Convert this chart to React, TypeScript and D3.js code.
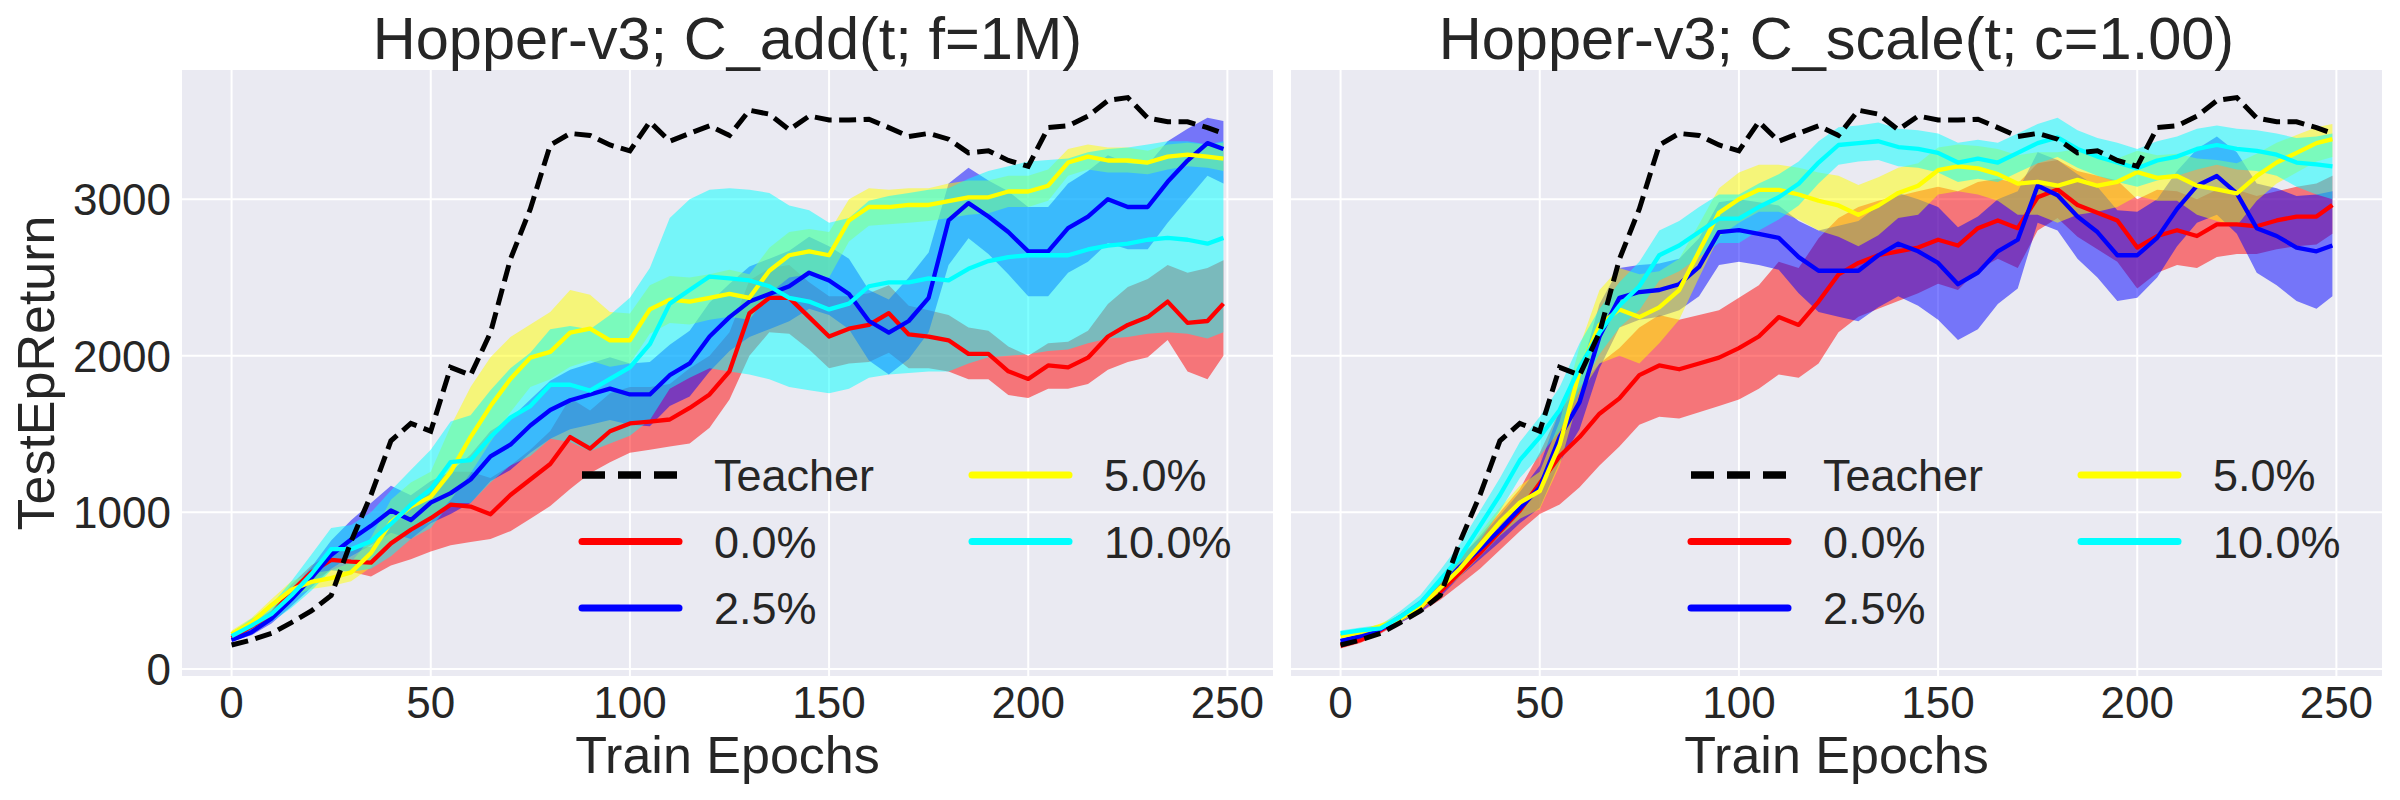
import * as d3 from 'd3';

// epochs sampled from the curves
const epochs = [0, 5, 10, 15, 20, 25, 30, 35, 40, 45, 50, 55, 60, 65, 70, 75, 80, 85, 90, 95, 100, 105, 110, 115, 120, 125, 130, 135, 140, 145, 150, 155, 160, 165, 170, 175, 180, 185, 190, 195, 200, 205, 210, 215, 220, 225, 230, 235, 240, 245, 249];

const xTicks = [0, 50, 100, 150, 200, 250];
const yTicks = [0, 1000, 2000, 3000];

const teacher = [153, 185, 227, 296, 370, 469, 815, 1111, 1457, 1568, 1518, 1926, 1876, 2148, 2617, 2938, 3346, 3420, 3407, 3346, 3309, 3494, 3370, 3420, 3469, 3407, 3568, 3543, 3444, 3531, 3506, 3506, 3511, 3457, 3400, 3420, 3383, 3296, 3309, 3247, 3210, 3457, 3469, 3531, 3630, 3649, 3518, 3494, 3494, 3457, 3420];

// left panel: C_add
const addRed = [198, 272, 346, 494, 617, 696, 686, 679, 802, 889, 963, 1049, 1037, 988, 1111, 1210, 1309, 1481, 1407, 1518, 1568, 1580, 1593, 1667, 1753, 1901, 2272, 2370, 2370, 2247, 2123, 2173, 2197, 2272, 2136, 2123, 2099, 2012, 2012, 1901, 1852, 1938, 1926, 1988, 2123, 2197, 2247, 2346, 2210, 2222, 2333];
const addRedLo = [180, 250, 320, 440, 560, 630, 620, 590, 660, 700, 750, 790, 810, 830, 880, 960, 1040, 1150, 1250, 1320, 1380, 1400, 1420, 1440, 1540, 1720, 2000, 2150, 2140, 2040, 1920, 1950, 1960, 2020, 1920, 1920, 1900, 1850, 1850, 1750, 1730, 1790, 1790, 1820, 1910, 1960, 1990, 2100, 1900, 1850, 2000];
const addRedHi = [215, 295, 375, 540, 660, 740, 770, 780, 930, 1060, 1150, 1260, 1260, 1220, 1300, 1400, 1520, 1730, 1650, 1760, 1800, 1800, 1820, 1920, 2000, 2150, 2480, 2560, 2580, 2470, 2380, 2380, 2400, 2450, 2320, 2290, 2260, 2180, 2160, 2060, 2000, 2080, 2090, 2160, 2330, 2440, 2490, 2580, 2530, 2560, 2610];

const addBlue = [185, 235, 321, 444, 580, 728, 827, 914, 1012, 951, 1062, 1123, 1210, 1358, 1432, 1555, 1654, 1716, 1753, 1790, 1753, 1753, 1876, 1951, 2123, 2247, 2346, 2395, 2444, 2531, 2481, 2395, 2222, 2148, 2222, 2370, 2864, 2975, 2889, 2790, 2667, 2667, 2815, 2889, 3000, 2950, 2950, 3111, 3247, 3358, 3321];
const addBlueLo = [175, 215, 290, 400, 520, 640, 720, 790, 870, 830, 930, 990, 1060, 1200, 1270, 1380, 1470, 1530, 1560, 1590, 1560, 1550, 1680, 1740, 1900, 2030, 2120, 2170, 2220, 2300, 2260, 2170, 1970, 1880, 1980, 2150, 2580, 2750, 2650, 2520, 2380, 2380, 2530, 2600, 2720, 2680, 2680, 2850, 3000, 3150, 3100];
const addBlueHi = [200, 260, 360, 500, 650, 820, 950, 1060, 1170, 1110, 1200, 1260, 1370, 1520, 1600, 1720, 1840, 1910, 1950, 1990, 1950, 1960, 2070, 2160, 2340, 2460, 2570, 2620, 2670, 2760, 2700, 2620, 2420, 2360, 2500, 2660, 3100, 3200, 3120, 3050, 2950, 2950, 3100, 3180, 3280, 3230, 3220, 3370, 3450, 3520, 3500];

const addYellow = [222, 296, 407, 506, 556, 580, 617, 741, 938, 1037, 1099, 1259, 1481, 1679, 1852, 1988, 2025, 2148, 2173, 2099, 2099, 2296, 2358, 2346, 2370, 2395, 2370, 2543, 2642, 2667, 2642, 2864, 2950, 2950, 2963, 2963, 2988, 3012, 3012, 3049, 3049, 3086, 3234, 3272, 3247, 3247, 3234, 3272, 3284, 3272, 3259];
const addYellowLo = [200, 270, 370, 460, 510, 530, 560, 650, 800, 890, 940, 1080, 1250, 1450, 1640, 1800, 1850, 1930, 1970, 1930, 1950, 2140, 2210, 2200, 2230, 2250, 2230, 2400, 2500, 2520, 2500, 2730, 2830, 2840, 2850, 2860, 2880, 2900, 2910, 2950, 2950, 2990, 3150, 3190, 3170, 3170, 3160, 3190, 3210, 3200, 3180];
const addYellowHi = [245, 325, 445, 560, 610, 630, 680, 840, 1080, 1190, 1260, 1550, 1800, 1990, 2120, 2200, 2280, 2420, 2390, 2280, 2270, 2450, 2510, 2500, 2520, 2550, 2520, 2690, 2790, 2810, 2790, 3000, 3070, 3060, 3070, 3070, 3100, 3120, 3120, 3150, 3150, 3190, 3320, 3350, 3330, 3330, 3310, 3350, 3360, 3350, 3360];

const addCyan = [210, 277, 351, 469, 605, 765, 765, 815, 926, 1049, 1148, 1321, 1333, 1481, 1605, 1679, 1815, 1815, 1778, 1852, 1926, 2074, 2333, 2420, 2506, 2494, 2481, 2444, 2370, 2346, 2296, 2333, 2444, 2469, 2469, 2494, 2481, 2555, 2605, 2630, 2642, 2642, 2642, 2679, 2704, 2716, 2741, 2753, 2741, 2716, 2753];
const addCyanLo = [190, 240, 300, 390, 500, 630, 620, 640, 720, 830, 900, 1060, 1060, 1190, 1300, 1360, 1470, 1450, 1390, 1440, 1490, 1590, 1790, 1860, 1920, 1900, 1880, 1850, 1800, 1780, 1760, 1790, 1860, 1880, 1890, 1900, 1900, 1950, 1990, 2000, 2010, 2030, 2040, 2080, 2110, 2120, 2140, 2150, 2140, 2110, 2150];
const addCyanHi = [235, 320, 410, 560, 730, 900, 920, 1000, 1140, 1270, 1400, 1580, 1620, 1780, 1920, 2020, 2170, 2190, 2170, 2260, 2370, 2560, 2880, 3000, 3060, 3070, 3060, 3040, 2960, 2930, 2850, 2880, 2990, 3020, 3040, 3060, 3070, 3130, 3180, 3210, 3240, 3250, 3260, 3300, 3320, 3330, 3350, 3370, 3370, 3350, 3370];

// right panel: C_scale
const scaleRed = [148, 185, 247, 321, 395, 494, 617, 741, 877, 1012, 1185, 1358, 1481, 1630, 1728, 1876, 1938, 1914, 1951, 1988, 2049, 2123, 2247, 2197, 2346, 2519, 2593, 2642, 2667, 2691, 2741, 2704, 2815, 2864, 2815, 3012, 3062, 2963, 2914, 2864, 2691, 2765, 2802, 2765, 2839, 2839, 2827, 2864, 2889, 2889, 2963];
const scaleRedLo = [130, 165, 225, 295, 360, 440, 540, 640, 760, 880, 990, 1050, 1160, 1300, 1420, 1560, 1610, 1600, 1640, 1680, 1720, 1790, 1880, 1860, 1950, 2150, 2250, 2300, 2350, 2400, 2460, 2420, 2550, 2620, 2560, 2800, 2880, 2760, 2680, 2600, 2430, 2530, 2580, 2560, 2630, 2650, 2650, 2680, 2700, 2710, 2780];
const scaleRedHi = [170, 205, 270, 350, 430, 560, 700, 850, 1000, 1150, 1380, 1650, 1800, 1950, 2050, 2180, 2260, 2230, 2260, 2290, 2370, 2450, 2600, 2560, 2750, 2880, 2950, 2990, 3020, 3050, 3080, 3050, 3110, 3130, 3100, 3230, 3250, 3180, 3150, 3120, 3000, 3060, 3050, 3000, 3060, 3060, 3020, 3050, 3080, 3100, 3150];

const scaleBlue = [178, 210, 254, 321, 400, 518, 654, 765, 889, 1025, 1160, 1481, 1704, 2123, 2370, 2407, 2420, 2457, 2568, 2790, 2802, 2778, 2753, 2630, 2543, 2543, 2543, 2642, 2716, 2667, 2593, 2457, 2531, 2667, 2741, 3086, 3025, 2889, 2790, 2642, 2642, 2753, 2938, 3086, 3148, 3037, 2815, 2765, 2691, 2667, 2704];
const scaleBlueLo = [165, 195, 235, 295, 360, 460, 590, 700, 810, 930, 1030, 1320, 1530, 1920, 2180, 2230, 2250, 2290, 2380, 2580, 2600, 2580, 2550, 2400, 2280, 2250, 2220, 2310, 2380, 2320, 2230, 2100, 2170, 2330, 2430, 2850, 2800, 2620, 2500, 2350, 2370, 2500, 2700, 2850, 2900, 2780, 2530, 2450, 2350, 2300, 2380];
const scaleBlueHi = [195, 225, 275, 350, 440, 580, 720, 840, 980, 1130, 1300, 1650, 1880, 2330, 2560, 2580, 2590, 2620, 2750, 2980, 3000, 2980, 2960, 2860, 2800, 2830, 2860, 2960, 3040, 3000, 2950, 2820, 2890, 3000, 3050, 3300, 3250, 3160, 3080, 2930, 2920, 3000, 3180, 3320, 3400, 3300, 3100, 3070, 3020, 3030, 3050];

const scaleYellow = [210, 235, 272, 321, 395, 518, 642, 790, 938, 1062, 1136, 1432, 1901, 2197, 2296, 2247, 2309, 2420, 2667, 2913, 3000, 3060, 3060, 3030, 2990, 2960, 2900, 2960, 3040, 3086, 3185, 3210, 3197, 3160, 3099, 3111, 3086, 3123, 3086, 3111, 3173, 3136, 3148, 3086, 3062, 3037, 3148, 3234, 3296, 3358, 3383];
const scaleYellowLo = [195, 220, 255, 300, 370, 480, 590, 720, 850, 960, 1020, 1300, 1750, 1950, 2000, 1950, 2080, 2230, 2500, 2760, 2850, 2920, 2920, 2870, 2800, 2760, 2700, 2770, 2880, 2900, 3030, 3050, 3030, 2990, 2900, 2900, 2850, 2900, 2920, 2950, 3020, 2990, 2990, 2900, 2860, 2830, 2990, 3100, 3170, 3240, 3270];
const scaleYellowHi = [225, 250, 290, 345, 425, 560, 700, 870, 1030, 1170, 1260, 1580, 2060, 2420, 2560, 2520, 2540, 2620, 2840, 3070, 3170, 3220, 3220, 3200, 3170, 3150, 3090, 3140, 3200, 3230, 3330, 3350, 3340, 3320, 3280, 3300, 3300, 3320, 3260, 3260, 3310, 3280, 3290, 3260, 3250, 3230, 3290, 3360, 3410, 3460, 3480];

const scaleCyan = [227, 247, 259, 333, 420, 568, 716, 914, 1111, 1333, 1481, 1654, 1926, 2148, 2321, 2444, 2642, 2704, 2790, 2876, 2876, 2950, 3012, 3099, 3234, 3346, 3358, 3370, 3333, 3321, 3296, 3234, 3259, 3234, 3296, 3358, 3395, 3321, 3272, 3234, 3197, 3247, 3272, 3321, 3346, 3321, 3309, 3284, 3234, 3222, 3210];
const scaleCyanLo = [210, 230, 240, 300, 380, 510, 640, 820, 1010, 1220, 1360, 1520, 1780, 2010, 2180, 2290, 2480, 2540, 2630, 2720, 2720, 2800, 2870, 2960, 3100, 3220, 3240, 3250, 3210, 3200, 3170, 3110, 3130, 3110, 3170, 3230, 3270, 3200, 3150, 3110, 3080, 3120, 3150, 3190, 3220, 3190, 3180, 3150, 3080, 3030, 3000];
const scaleCyanHi = [245, 265, 280, 370, 470, 630, 800, 1010, 1220, 1450, 1610, 1800, 2080, 2300, 2470, 2600, 2800, 2860, 2950, 3030, 3030, 3100, 3160, 3240, 3370, 3460, 3470, 3490, 3450, 3440, 3420, 3360, 3380, 3360, 3420, 3480, 3520, 3440, 3390, 3360, 3320, 3370, 3400, 3450, 3470, 3450, 3440, 3420, 3390, 3400, 3420];

const seriesNames = ['0.0%', '2.5%', '5.0%', '10.0%'];
const seriesColors = ['#ff0000', '#0000ff', '#ffff00', '#00ffff'];

interface Run {
  mean: number[];
  lo: number[];
  hi: number[];
}

const addRuns: Run[] = [
  { mean: addRed, lo: addRedLo, hi: addRedHi },
  { mean: addBlue, lo: addBlueLo, hi: addBlueHi },
  { mean: addYellow, lo: addYellowLo, hi: addYellowHi },
  { mean: addCyan, lo: addCyanLo, hi: addCyanHi },
];
const scaleRuns: Run[] = [
  { mean: scaleRed, lo: scaleRedLo, hi: scaleRedHi },
  { mean: scaleBlue, lo: scaleBlueLo, hi: scaleBlueHi },
  { mean: scaleYellow, lo: scaleYellowLo, hi: scaleYellowHi },
  { mean: scaleCyan, lo: scaleCyanLo, hi: scaleCyanHi },
];

const plotW = 1091;
const plotH = 606;
const top = 70;
const textColor = '#262626';
const font = '"Liberation Sans", Arial, sans-serif';

const x = d3.scaleLinear().domain([-12.45, 261.45]).range([0, plotW]);
const y = d3.scaleLinear().domain([-45, 3825]).range([plotH, 0]);

// legend: column-major, two columns
const legendItems = [
  { label: 'Teacher', color: '#000000', dash: true, col: 0, row: 0 },
  { label: seriesNames[0], color: seriesColors[0], dash: false, col: 0, row: 1 },
  { label: seriesNames[1], color: seriesColors[1], dash: false, col: 0, row: 2 },
  { label: seriesNames[2], color: seriesColors[2], dash: false, col: 1, row: 0 },
  { label: seriesNames[3], color: seriesColors[3], dash: false, col: 1, row: 1 },
];

function Panel({ id, left, title, runs, showY }: { id: string; left: number; title: string; runs: Run[]; showY: boolean }) {
  const line = d3
    .line<number>()
    .x((_, i) => x(epochs[i]))
    .y((d) => y(d));

  const band = (r: Run) =>
    d3
      .area<number>()
      .x((_, i) => x(epochs[i]))
      .y0((_, i) => y(r.lo[i]))
      .y1((d) => y(d))(r.hi) ?? '';

  return (
    <g transform={`translate(${left},${top})`}>
      <defs>
        <clipPath id={`clip-${id}`}>
          <rect width={plotW} height={plotH} />
        </clipPath>
      </defs>
      <rect width={plotW} height={plotH} fill="#eaeaf2" />
      {xTicks.map((t) => (
        <line key={`gx${t}`} x1={x(t)} x2={x(t)} y1={0} y2={plotH} stroke="#fff" strokeWidth={2} />
      ))}
      {yTicks.map((t) => (
        <line key={`gy${t}`} x1={0} x2={plotW} y1={y(t)} y2={y(t)} stroke="#fff" strokeWidth={2} />
      ))}

      <g clipPath={`url(#clip-${id})`}>
        {runs.map((r, i) => (
          <path key={`b${i}`} d={band(r)} fill={seriesColors[i]} fillOpacity={0.5} stroke="none" />
        ))}
        {runs.map((r, i) => (
          <path
            key={`l${i}`}
            d={line(r.mean) ?? ''}
            fill="none"
            stroke={seriesColors[i]}
            strokeWidth={4.3}
            strokeLinejoin="round"
          />
        ))}
        <path d={line(teacher) ?? ''} fill="none" stroke="#000" strokeWidth={5} strokeDasharray="17,7.5" />
      </g>

      {legendItems.map((it) => {
        const lx = it.col === 0 ? 400 : 790;
        const ly = 405 + it.row * 66.5;
        return (
          <g key={it.label}>
            <line
              x1={lx}
              x2={lx + 97}
              y1={ly}
              y2={ly}
              stroke={it.color}
              strokeWidth={it.dash ? 7.5 : 7}
              strokeDasharray={it.dash ? '23,13' : undefined}
              strokeLinecap={it.dash ? 'butt' : 'round'}
            />
            <text x={lx + 132} y={ly} dy="0.36em" fontSize={45} fill={textColor} fontFamily={font}>
              {it.label}
            </text>
          </g>
        );
      })}

      {xTicks.map((t) => (
        <text key={`tx${t}`} x={x(t)} y={648} textAnchor="middle" fontSize={44} fill={textColor} fontFamily={font}>
          {t}
        </text>
      ))}
      {showY &&
        yTicks.map((t) => (
          <text
            key={`ty${t}`}
            x={-11}
            y={y(t)}
            dy="0.36em"
            textAnchor="end"
            fontSize={44}
            fill={textColor}
            fontFamily={font}
          >
            {t}
          </text>
        ))}
      <text x={plotW / 2} y={703} textAnchor="middle" fontSize={52} fill={textColor} fontFamily={font}>
        Train Epochs
      </text>
      {showY && (
        <text
          transform={`translate(-128,${plotH / 2}) rotate(-90)`}
          textAnchor="middle"
          fontSize={52}
          fill={textColor}
          fontFamily={font}
        >
          TestEpReturn
        </text>
      )}
      <text x={plotW / 2} y={-11} textAnchor="middle" fontSize={59.5} fill={textColor} fontFamily={font}>
        {title}
      </text>
    </g>
  );
}

export default function App() {
  return (
    <svg
      width={2400}
      height={800}
      viewBox="0 0 2400 800"
      style={{ position: 'absolute', left: 0, top: 0, background: '#fff' }}
    >
      <rect width={2400} height={800} fill="#fff" />
      <Panel id="add" left={182} title="Hopper-v3; C_add(t; f=1M)" runs={addRuns} showY />
      <Panel id="scale" left={1291} title="Hopper-v3; C_scale(t; c=1.00)" runs={scaleRuns} showY={false} />
    </svg>
  );
}
